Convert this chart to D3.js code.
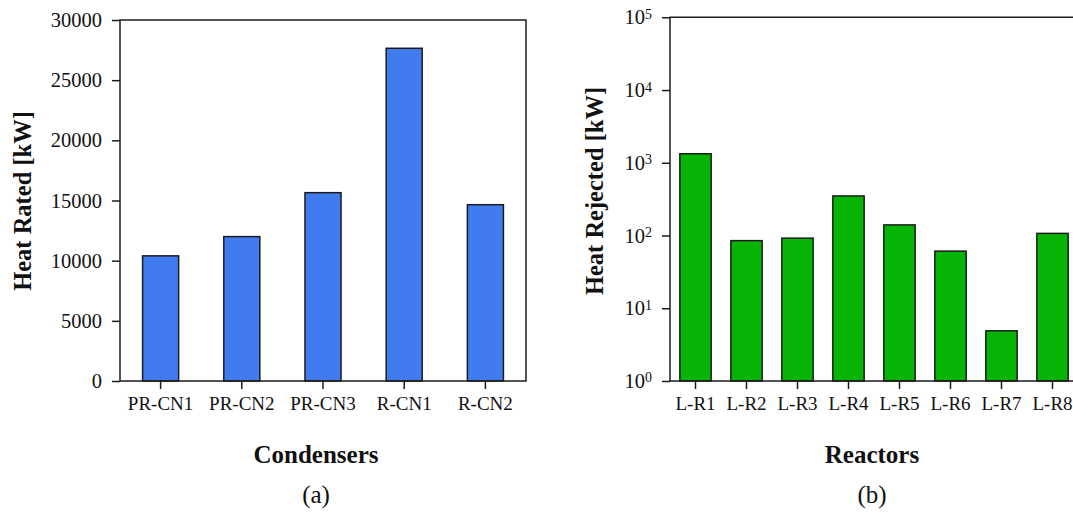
<!DOCTYPE html>
<html>
<head>
<meta charset="utf-8">
<script src="https://cdn.jsdelivr.net/npm/d3@7/dist/d3.min.js"></script>
<style>
  html, body { margin: 0; padding: 0; background: #fff; }
  svg { display: block; }
  text { font-family: "Liberation Serif", "Times New Roman", serif; fill: #111; }
</style>
</head>
<body>
<svg id="chart" width="1073" height="515"></svg>
<script>
// Panel (a): rated heat duty of the condensers
const condensers = ["PR-CN1", "PR-CN2", "PR-CN3", "R-CN1", "R-CN2"];
const heatRated = [10400, 12000, 15650, 27650, 14650];
const ratedTicks = [0, 5000, 10000, 15000, 20000, 25000, 30000];

// Panel (b): heat rejected by the reactors (log scale)
const reactors = ["L-R1", "L-R2", "L-R3", "L-R4", "L-R5", "L-R6", "L-R7", "L-R8"];
const heatRejected = [1330, 85, 92, 350, 140, 61, 4.9, 107];
const rejectedExponents = [0, 1, 2, 3, 4, 5];

const svg = d3.select("#chart");
const ink = "#1c1c1c";
const tickLen = 8;

function drawPanel(cfg) {
  const g = svg.append("g");
  const x = d3.scaleBand()
    .domain(cfg.categories)
    .range([cfg.left, cfg.right])
    .paddingInner(cfg.pad)
    .paddingOuter(cfg.pad / 2);
  const y = cfg.yScale;

  // bars
  g.selectAll("rect.bar")
    .data(cfg.values.map((v, i) => ({ k: cfg.categories[i], v })))
    .join("rect")
    .attr("class", "bar")
    .attr("x", d => x(d.k))
    .attr("width", x.bandwidth())
    .attr("y", d => y(d.v))
    .attr("height", d => y(cfg.base) - y(d.v))
    .attr("fill", cfg.color)
    .attr("stroke", ink)
    .attr("stroke-width", 1.5);

  // frame
  const [y0, y1] = y.range();
  g.append("path")
    .attr("d", `M${cfg.left},${y1}H${cfg.right}V${y0}H${cfg.left}Z`)
    .attr("fill", "none")
    .attr("stroke", ink)
    .attr("stroke-width", 1.5);

  // y axis
  const yAxis = d3.axisLeft(y)
    .tickValues(cfg.yTicks)
    .tickSize(tickLen)
    .tickPadding(10)
    .tickFormat(cfg.yFormat || null);
  const ya = g.append("g")
    .attr("transform", `translate(${cfg.left},0)`)
    .call(yAxis);
  ya.select(".domain").remove();
  ya.selectAll(".tick line").attr("stroke", ink).attr("stroke-width", 1.5);
  ya.selectAll(".tick text")
    .attr("font-size", 20.5)
    .attr("fill", "#111");
  if (cfg.yText) cfg.yText(ya);

  // x axis
  const xAxis = d3.axisBottom(x).tickSize(tickLen).tickPadding(8);
  const xa = g.append("g")
    .attr("transform", `translate(0,${y0})`)
    .call(xAxis);
  xa.select(".domain").remove();
  xa.selectAll(".tick line").attr("stroke", ink).attr("stroke-width", 1.5);
  xa.selectAll(".tick text")
    .attr("font-size", 19)
    .attr("fill", "#111");

  // axis titles and panel caption
  g.append("text")
    .attr("transform", `translate(${cfg.yTitleX},${cfg.yTitleY}) rotate(-90)`)
    .attr("text-anchor", "middle")
    .attr("font-size", 24.5)
    .attr("font-weight", "bold")
    .text(cfg.yTitle);
  g.append("text")
    .attr("x", cfg.captionX)
    .attr("y", 463)
    .attr("text-anchor", "middle")
    .attr("font-size", 25)
    .attr("font-weight", "bold")
    .text(cfg.xTitle);
  g.append("text")
    .attr("x", cfg.captionX)
    .attr("y", 503)
    .attr("text-anchor", "middle")
    .attr("font-size", 25)
    .text(cfg.caption);
}

drawPanel({
  categories: condensers,
  values: heatRated,
  base: 0,
  left: 120, right: 526,
  pad: 0.556,
  yScale: d3.scaleLinear().domain([0, 30000]).range([381, 20]),
  yTicks: ratedTicks,
  yFormat: d3.format("d"),
  color: "#407bf0",
  yTitle: "Heat Rated [kW]",
  yTitleX: 31, yTitleY: 201,
  xTitle: "Condensers",
  caption: "(a)",
  captionX: 316
});

drawPanel({
  categories: reactors,
  values: heatRejected,
  base: 1,
  left: 670, right: 1078,
  pad: 0.386,
  yScale: d3.scaleLog().domain([1, 1e5]).range([381, 17.3]),
  yTicks: rejectedExponents.map(e => Math.pow(10, e)),
  yFormat: () => "",
  yText: sel => {
    sel.selectAll(".tick text").each(function(d) {
      const t = d3.select(this);
      t.text(null);
      t.append("tspan").text("10");
      t.append("tspan")
        .attr("font-size", 14)
        .attr("dy", "-0.4em")
        .text(Math.round(Math.log10(d)));
    });
  },
  color: "#06b406",
  yTitle: "Heat Rejected [kW]",
  yTitleX: 603, yTitleY: 191,
  xTitle: "Reactors",
  caption: "(b)",
  captionX: 872
});
</script>
</body>
</html>
